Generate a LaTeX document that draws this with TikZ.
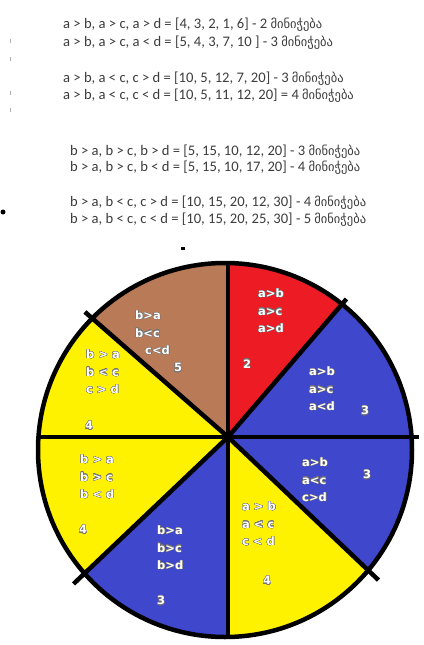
\documentclass[tikz,border=0pt]{standalone}
\usepackage{fontspec}
\setmainfont{Carlito}
\newfontfamily\geofont{DejaVu Sans}
\newfontfamily\labelfont{DejaVu Sans}
\usepackage{xcolor}
\usepackage[copies]{contour}
\contourlength{0.4pt}
\usetikzlibrary{calc}
\definecolor{piered}{HTML}{ED1C24}
\definecolor{pieblue}{HTML}{3F48CC}
\definecolor{pieyellow}{HTML}{FFF200}
\definecolor{piebrown}{HTML}{B97A57}
\definecolor{headgray}{HTML}{3C3C3C}
\newcommand{\geoword}{{\geofont\fontsize{12.5}{13}\selectfont მინიჭება}}
\newcommand{\rim}[1]{\contour{black!55}{#1}}
\tikzset{
  headline/.style={anchor=west, inner sep=0pt, text=headgray,
    font=\fontsize{14.6}{16}\selectfont},
  pielabel/.style={anchor=west, inner sep=0pt, text=white, align=left,
    font=\labelfont\bfseries\fontsize{11.5}{17.5}\selectfont},
  piecount/.style={inner sep=0pt, text=white,
    font=\labelfont\bfseries\fontsize{11.5}{13}\selectfont},
  piespoke/.style={line width=4.5pt, draw=black},
  pierim/.style={line width=4.5pt, draw=black}
}

\begin{document}
\begin{tikzpicture}[x=1pt, y=-1pt]
  \useasboundingbox (0,0) rectangle (423,645);

  % text above the wheel
  \node[headline] (ha1) at (63,25)
    {a > b, a > c, a > d = [4, 3, 2, 1, 6] - 2 \geoword};
  \node[headline] (ha2) at (63,43)
    {a > b, a > c, a < d = [5, 4, 3, 7, 10 ] - 3 \geoword};
  \node[headline] (ha3) at (63,79)
    {a > b, a < c, c > d = [10, 5, 12, 7, 20] - 3 \geoword};
  \node[headline] (ha4) at (63,96)
    {a > b, a < c, c < d = [10, 5, 11, 12, 20] = 4 \geoword};
  \node[headline] (hb1) at (70,152)
    {b > a, b > c, b > d = [5, 15, 10, 12, 20] - 3 \geoword};
  \node[headline] (hb2) at (70,168)
    {b > a, b > c, b < d = [5, 15, 10, 17, 20] - 4 \geoword};
  \node[headline] (hb3) at (70,203)
    {b > a, b < c, c > d = [10, 15, 20, 12, 30] - 4 \geoword};
  \node[headline] (hb4) at (70,220)
    {b > a, b < c, c < d = [10, 15, 20, 25, 30] - 5 \geoword};

  % stray marks
  \fill (3,212) circle (2.5);
  \fill (181,247) rectangle (185,250);
  \foreach \ty in {41,59,93,110}
    \fill[black!30] (9.5,\ty-2) rectangle (10.5,\ty+2);

  % wheel
  \coordinate (C) at (225,450);
  \coordinate (O) at (228,437);
  \coordinate (pT) at (228,264);
  \coordinate (pUR) at (343,303);
  \coordinate (pR) at (412,437);
  \coordinate (pLR) at (370,572);
  \coordinate (pB) at (228,636);
  \coordinate (pLL) at (85,573);
  \coordinate (pL) at (38,437);
  \coordinate (pUL) at (93,319);

  \begin{scope}
    \clip (C) circle (187);
    \fill[piered] (O) -- ($(O)!3!(pT)$) -- ($(O)!3!(pUR)$) -- cycle;
    \fill[pieblue] (O) -- ($(O)!3!(pUR)$) -- ($(O)!3!(pR)$) -- cycle;
    \fill[pieblue] (O) -- ($(O)!3!(pR)$) -- ($(O)!3!(pLR)$) -- cycle;
    \fill[pieyellow] (O) -- ($(O)!3!(pLR)$) -- ($(O)!3!(pB)$) -- cycle;
    \fill[pieblue] (O) -- ($(O)!3!(pB)$) -- ($(O)!3!(pLL)$) -- cycle;
    \fill[pieyellow] (O) -- ($(O)!3!(pLL)$) -- ($(O)!3!(pL)$) -- cycle;
    \fill[pieyellow] (O) -- ($(O)!3!(pL)$) -- ($(O)!3!(pUL)$) -- cycle;
    \fill[piebrown] (O) -- ($(O)!3!(pUL)$) -- ($(O)!3!(pT)$) -- cycle;
  \end{scope}
  \draw[pierim] (C) circle (187);

  \draw[piespoke] (pT) -- (pB);
  \draw[piespoke] (pL) -- ($(O)!1.04!(pR)$);
  \draw[piespoke] (O) -- ($(O)!1.03!(pUR)$);
  \draw[piespoke] (O) -- ($(O)!1.06!(pUL)$);
  \draw[piespoke] (O) -- ($(O)!1.08!(pLL)$);
  \draw[piespoke] (O) -- ($(O)!1.06!(pLR)$);

  % sector labels
  \node[pielabel] (red) at (258,311) {\rim{a>b}\\\rim{a>c}\\\rim{a>d}};
  \node[piecount] (redn) at (247,364) {\rim{2}};
  \node[pielabel] (blueup) at (309,389) {\rim{a>b}\\\rim{a>c}\\\rim{a<d}};
  \node[piecount] (blueupn) at (365,411) {\rim{3}};
  \node[pielabel] (bluelow) at (302,480) {\rim{a>b}\\\rim{a<c}\\\rim{c>d}};
  \node[piecount] (bluelown) at (367,475) {\rim{3}};
  \node[pielabel] (yellowbot) at (242,524)
    {\rim{a > b}\\\rim{a < c}\\\rim{c < d}};
  \node[piecount] (yellowbotn) at (267,581) {\rim{4}};
  \node[pielabel] (bluebot) at (157,548) {\rim{b>a}\\\rim{b>c}\\\rim{b>d}};
  \node[piecount] (bluebotn) at (161,601) {\rim{3}};
  \node[pielabel] (yellowlow) at (80,477)
    {\rim{b > a}\\\rim{b > c}\\\rim{b < d}};
  \node[piecount] (yellowlown) at (83,530) {\rim{4}};
  \node[pielabel] (yellowup) at (86,372)
    {\rim{b > a}\\\rim{b < c}\\\rim{c > d}};
  \node[piecount] (yellowupn) at (89,426) {\rim{4}};
  \node[pielabel] (brown) at (135,333)
    {\rim{b>a}\\\rim{b<c}\\\hspace{10pt}\rim{c<d}};
  \node[piecount] (brownn) at (178,368) {\rim{5}};
\end{tikzpicture}
\end{document}
